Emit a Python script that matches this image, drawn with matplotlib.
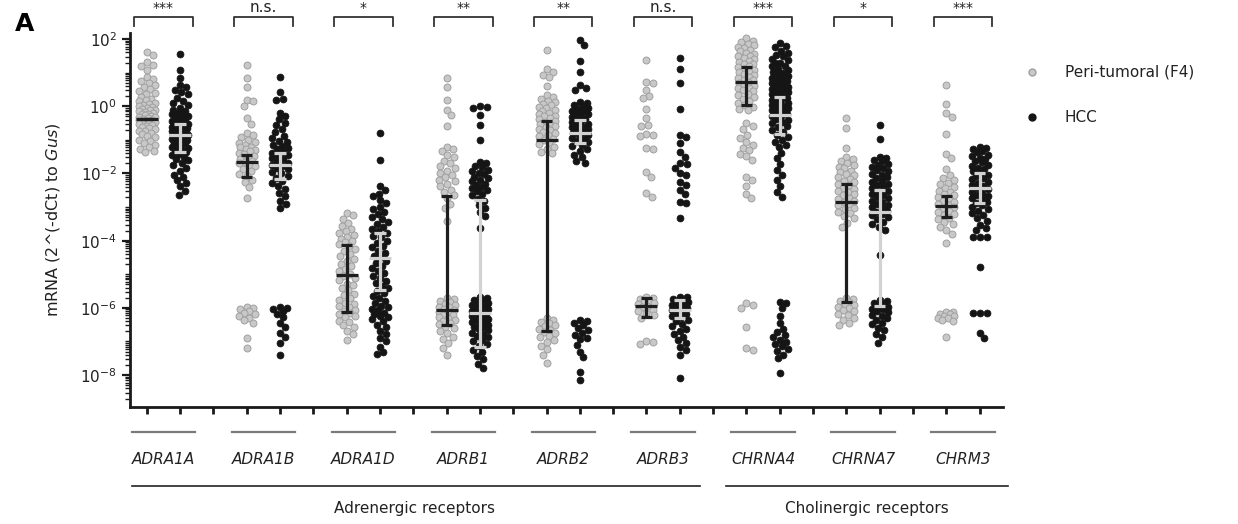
## mRNA expression of neurotransmitter receptors, peri-tumoral vs HCC
import numpy as np
import matplotlib
matplotlib.use("Agg")
from matplotlib import pyplot as plt
from matplotlib.lines import Line2D
import matplotlib.transforms as mtransforms
from matplotlib.ticker import FixedLocator, LogLocator, NullFormatter

plt.rcParams['font.family'] = 'DejaVu Sans'

# gene names and significance labels
genes = ["ADRA1A", "ADRA1B", "ADRA1D", "ADRB1", "ADRB2", "ADRB3", "CHRNA4", "CHRNA7", "CHRM3"]
sig = ["***", "n.s.", "*", "**", "**", "n.s.", "***", "*", "***"]

# read-off values, log10 of mRNA (2^(-dCt) to Gus)
adra1a_peri = [1.62, 1.54, 1.31, 1.23, 1.19, 1.09, 0.86, 0.81, 0.76, 0.69, 0.64, 0.56, 0.52, 0.45, 0.39, 0.36,
               0.28, 0.23, 0.18, 0.15, 0.09, 0.07, 0.04, 0.01, -0.02, -0.05, -0.07, -0.10, -0.12, -0.15, -0.16,
               -0.20, -0.22, -0.24, -0.26, -0.29, -0.31, -0.33, -0.36, -0.37, -0.40, -0.42, -0.43, -0.47, -0.49,
               -0.51, -0.54, -0.57, -0.59, -0.62, -0.66, -0.68, -0.73, -0.75, -0.81, -0.83, -0.88, -0.92, -0.99,
               -1.03, -1.10, -1.15, -1.22, -1.26, -1.33, -1.36]
adra1a_hcc = [1.57, 1.08, 0.83, 0.63, 0.58, 0.49, 0.42, 0.36, 0.26, 0.17, 0.10, 0.03, -0.04, -0.10, -0.13, -0.19,
              -0.23, -0.27, -0.30, -0.34, -0.37, -0.41, -0.45, -0.47, -0.49, -0.53, -0.55, -0.56, -0.60, -0.62,
              -0.64, -0.68, -0.70, -0.71, -0.74, -0.78, -0.79, -0.82, -0.85, -0.86, -0.89, -0.91, -0.95, -0.97,
              -0.99, -1.02, -1.06, -1.08, -1.10, -1.14, -1.18, -1.21, -1.24, -1.30, -1.33, -1.36, -1.43, -1.46,
              -1.50, -1.58, -1.61, -1.70, -1.76, -1.85, -1.92, -2.04, -2.10, -2.19, -2.28, -2.38, -2.52, -2.64]
adra1b_peri = [1.22, 0.85, 0.58, 0.20, 0.15, 0.02, -0.36, -0.52, -0.80, -0.87, -0.92, -0.99, -1.05, -1.08, -1.14,
               -1.20, -1.22, -1.28, -1.31, -1.34, -1.40, -1.43, -1.49, -1.54, -1.57, -1.62, -1.67, -1.69, -1.76,
               -1.79, -1.86, -1.92, -2.01, -2.07, -2.18, -2.26, -2.41, -2.74, -5.96, -6.01, -6.03, -6.09, -6.15,
               -6.18, -6.25, -6.29, -6.36, -6.45, -6.90, -7.19]
adra1b_hcc = [0.86, 0.41, 0.23, 0.19, -0.19, -0.30, -0.39, -0.50, -0.57, -0.69, -0.77, -0.88, -0.93, -1.02, -1.06,
              -1.14, -1.18, -1.25, -1.28, -1.35, -1.38, -1.45, -1.48, -1.55, -1.58, -1.65, -1.68, -1.75, -1.78,
              -1.85, -1.88, -1.96, -2.00, -2.08, -2.13, -2.22, -2.28, -2.38, -2.46, -2.58, -2.68, -2.82, -2.92,
              -3.02, -5.97, -6.00, -6.04, -6.08, -6.19, -6.28, -6.45, -6.57, -6.75, -6.88, -7.05, -7.40]
adra1d_peri = [-3.19, -3.25, -3.35, -3.47, -3.57, -3.65, -3.70, -3.78, -3.83, -3.90, -3.94, -4.01, -4.03, -4.10,
               -4.16, -4.25, -4.30, -4.40, -4.46, -4.55, -4.61, -4.70, -4.76, -4.85, -4.90, -5.00, -5.04, -5.12,
               -5.18, -5.28, -5.33, -5.42, -5.48, -5.58, -5.63, -5.72, -5.76, -5.85, -5.88, -5.95, -5.98, -6.05,
               -6.08, -6.15, -6.18, -6.25, -6.28, -6.38, -6.43, -6.52, -6.58, -6.70, -6.78, -6.96]
adra1d_hcc = [-0.81, -1.60, -2.38, -2.50, -2.60, -2.68, -2.80, -2.88, -3.00, -3.07, -3.15, -3.20, -3.30, -3.36,
              -3.45, -3.50, -3.60, -3.64, -3.72, -3.76, -3.85, -3.90, -4.00, -4.06, -4.15, -4.20, -4.30, -4.36,
              -4.45, -4.50, -4.60, -4.66, -4.75, -4.80, -4.90, -4.96, -5.05, -5.10, -5.20, -5.26, -5.35, -5.40,
              -5.50, -5.56, -5.65, -5.70, -5.80, -5.86, -5.93, -5.97, -6.04, -6.07, -6.14, -6.17, -6.24, -6.27,
              -6.34, -6.40, -6.50, -6.58, -6.70, -6.78, -6.90, -6.98, -7.15, -7.32, -7.36]
adrb1_peri = [0.83, 0.56, 0.20, -0.10, -0.26, -0.59, -1.20, -1.28, -1.33, -1.45, -1.52, -1.62, -1.68, -1.78, -1.83,
              -1.92, -1.98, -2.06, -2.10, -2.18, -2.23, -2.32, -2.38, -2.48, -2.54, -2.65, -2.73, -2.90, -3.03,
              -3.40, -5.72, -5.74, -5.80, -5.82, -5.88, -5.90, -5.96, -5.98, -6.04, -6.06, -6.12, -6.14, -6.20,
              -6.22, -6.28, -6.30, -6.36, -6.39, -6.46, -6.49, -6.57, -6.61, -6.70, -6.76, -6.86, -6.93, -7.06,
              -7.18, -7.39]
adrb1_hcc = [0.02, -0.01, -0.05, -0.26, -0.55, -1.00, -1.65, -1.70, -1.78, -1.82, -1.90, -1.93, -2.00, -2.03, -2.10,
             -2.13, -2.20, -2.23, -2.30, -2.33, -2.40, -2.43, -2.50, -2.53, -2.60, -2.65, -2.75, -2.83, -2.95,
             -3.03, -3.15, -3.28, -3.62, -5.67, -5.70, -5.76, -5.78, -5.84, -5.86, -5.92, -5.94, -6.00, -6.02,
             -6.08, -6.10, -6.16, -6.18, -6.24, -6.26, -6.32, -6.34, -6.40, -6.42, -6.48, -6.50, -6.56, -6.58,
             -6.64, -6.67, -6.74, -6.77, -6.84, -6.88, -6.96, -7.00, -7.09, -7.14, -7.24, -7.31, -7.43, -7.52,
             -7.66, -7.79]
adrb2_peri = [1.67, 1.10, 1.01, 0.94, 0.88, 0.60, 0.33, 0.27, 0.23, 0.16, 0.13, 0.07, 0.04, -0.02, -0.05, -0.11,
              -0.13, -0.20, -0.22, -0.28, -0.30, -0.36, -0.38, -0.44, -0.46, -0.52, -0.54, -0.60, -0.62, -0.68,
              -0.70, -0.76, -0.79, -0.86, -0.89, -0.96, -0.99, -1.07, -1.11, -1.20, -1.26, -1.36, -1.40, -6.31,
              -6.35, -6.42, -6.45, -6.52, -6.55, -6.62, -6.65, -6.72, -6.76, -6.84, -6.88, -6.97, -7.03, -7.14,
              -7.23, -7.39, -7.64]
adrb2_hcc = [1.97, 1.81, 1.36, 1.01, 0.63, 0.55, 0.48, 0.13, 0.10, 0.03, 0.01, -0.05, -0.07, -0.13, -0.15, -0.21,
             -0.23, -0.29, -0.31, -0.37, -0.39, -0.45, -0.47, -0.53, -0.55, -0.61, -0.63, -0.69, -0.71, -0.77,
             -0.79, -0.85, -0.87, -0.93, -0.96, -1.03, -1.06, -1.14, -1.18, -1.27, -1.33, -1.44, -1.52, -1.63,
             -1.70, -6.36, -6.39, -6.46, -6.51, -6.59, -6.65, -6.75, -6.81, -6.89, -6.92, -7.10, -7.30, -7.47,
             -7.90, -8.15]
adrb3_peri = [1.37, 0.73, 0.70, 0.48, 0.30, 0.26, -0.07, -0.36, -0.55, -0.58, -0.84, -0.86, -0.88, -1.23, -1.27,
              -1.95, -2.10, -2.59, -2.69, -5.67, -5.71, -5.73, -5.79, -5.81, -5.87, -5.89, -5.95, -5.98, -6.05,
              -6.08, -6.16, -6.21, -6.30, -6.98, -7.03, -7.07]
adrb3_hcc = [1.45, 1.10, 0.70, -0.09, -0.86, -0.92, -1.10, -1.36, -1.50, -1.70, -1.72, -1.85, -2.00, -2.05, -2.25,
             -2.35, -2.50, -2.62, -2.84, -2.88, -3.34, -5.67, -5.69, -5.74, -5.76, -5.82, -5.84, -5.90, -5.92,
             -5.98, -6.00, -6.06, -6.08, -6.14, -6.17, -6.24, -6.27, -6.35, -6.39, -6.48, -6.53, -6.63, -6.69,
             -6.79, -6.86, -6.97, -7.04, -7.16, -7.25, -7.39, -8.10]
chrna4_peri = [2.02, 1.95, 1.91, 1.84, 1.81, 1.76, 1.73, 1.67, 1.64, 1.59, 1.57, 1.51, 1.49, 1.43, 1.41, 1.35,
               1.33, 1.27, 1.25, 1.19, 1.17, 1.11, 1.09, 1.03, 1.01, 0.95, 0.93, 0.87, 0.85, 0.79, 0.77, 0.71,
               0.69, 0.63, 0.61, 0.55, 0.53, 0.47, 0.44, 0.37, 0.34, 0.27, 0.23, 0.15, 0.11, 0.03, -0.02, -0.08,
               -0.11, -0.51, -0.59, -0.69, -0.86, -0.94, -1.06, -1.14, -1.23, -1.29, -1.41, -1.49, -1.60, -2.10,
               -2.19, -2.36, -2.60, -2.74, -5.87, -5.90, -6.01, -6.56, -7.20, -7.25]
chrna4_hcc = [1.89, 1.79, 1.75, 1.65, 1.60, 1.52, 1.49, 1.41, 1.38, 1.30, 1.28, 1.21, 1.19, 1.12, 1.09, 1.03, 0.99,
              0.94, 0.91, 0.85, 0.83, 0.76, 0.74, 0.68, 0.66, 0.60, 0.58, 0.52, 0.50, 0.44, 0.42, 0.36, 0.34,
              0.28, 0.26, 0.20, 0.18, 0.12, 0.10, 0.04, 0.02, -0.04, -0.06, -0.12, -0.14, -0.20, -0.22, -0.28,
              -0.30, -0.37, -0.40, -0.47, -0.51, -0.59, -0.63, -0.71, -0.76, -0.85, -0.90, -1.00, -1.06, -1.16,
              -1.21, -1.40, -1.55, -1.72, -1.90, -2.05, -2.20, -2.38, -2.55, -2.69, -5.82, -5.86, -6.01, -6.25,
              -6.45, -6.62, -6.71, -6.81, -6.87, -6.96, -7.01, -7.09, -7.14, -7.23, -7.29, -7.39, -7.50, -7.95]
chrna7_peri = [-0.36, -0.64, -1.24, -1.50, -1.57, -1.62, -1.70, -1.74, -1.81, -1.85, -1.92, -1.95, -2.02, -2.05,
               -2.12, -2.15, -2.22, -2.25, -2.32, -2.35, -2.42, -2.45, -2.52, -2.55, -2.62, -2.65, -2.72, -2.75,
               -2.82, -2.85, -2.92, -2.95, -3.03, -3.07, -3.15, -3.19, -3.28, -3.34, -3.46, -3.59, -5.72, -5.75,
               -5.81, -5.83, -5.89, -5.91, -5.97, -5.99, -6.06, -6.09, -6.17, -6.21, -6.30, -6.36, -6.46, -6.51]
chrna7_hcc = [-0.56, -0.96, -1.50, -1.54, -1.61, -1.64, -1.71, -1.74, -1.81, -1.84, -1.91, -1.94, -2.01, -2.04,
              -2.11, -2.14, -2.21, -2.24, -2.31, -2.34, -2.41, -2.44, -2.51, -2.54, -2.61, -2.64, -2.71, -2.74,
              -2.81, -2.84, -2.91, -2.94, -3.01, -3.04, -3.11, -3.14, -3.21, -3.24, -3.31, -3.35, -3.43, -3.49,
              -3.59, -3.69, -4.43, -5.77, -5.80, -5.86, -5.88, -5.94, -5.96, -6.02, -6.04, -6.10, -6.13, -6.20,
              -6.23, -6.31, -6.35, -6.44, -6.49, -6.59, -6.66, -6.78, -6.88, -7.05]
chrm3_peri = [0.63, 0.06, -0.20, -0.32, -0.83, -1.42, -1.55, -1.88, -2.05, -2.13, -2.18, -2.27, -2.31, -2.39, -2.43,
              -2.51, -2.54, -2.61, -2.64, -2.71, -2.74, -2.81, -2.84, -2.91, -2.94, -3.01, -3.04, -3.11, -3.14,
              -3.21, -3.24, -3.32, -3.36, -3.44, -3.49, -3.59, -3.67, -3.79, -4.06, -6.11, -6.13, -6.18, -6.19,
              -6.24, -6.25, -6.30, -6.31, -6.37, -6.40, -6.88]
chrm3_hcc = [-1.20, -1.25, -1.27, -1.34, -1.37, -1.44, -1.47, -1.54, -1.57, -1.64, -1.67, -1.74, -1.77, -1.84,
             -1.87, -1.94, -1.97, -2.04, -2.07, -2.14, -2.17, -2.24, -2.27, -2.34, -2.37, -2.44, -2.47, -2.54,
             -2.57, -2.64, -2.67, -2.74, -2.77, -2.84, -2.87, -2.95, -2.99, -3.07, -3.11, -3.19, -3.24, -3.34,
             -3.41, -3.53, -3.61, -3.69, -3.88, -3.88, -3.88, -4.78, -6.15, -6.15, -6.15, -6.76, -6.91]

peri = [adra1a_peri, adra1b_peri, adra1d_peri, adrb1_peri, adrb2_peri, adrb3_peri, chrna4_peri, chrna7_peri, chrm3_peri]
hcc = [adra1a_hcc, adra1b_hcc, adra1d_hcc, adrb1_hcc, adrb2_hcc, adrb3_hcc, chrna4_hcc, chrna7_hcc, chrm3_hcc]

# median and interquartile range (log10) as drawn
peri_med = [-0.38, -1.67, -5.02, -6.07, -1.00, -5.95, 0.73, -2.84, -2.97]
peri_lo = [-0.38, -2.10, -6.11, -6.51, -6.69, -6.26, 0.04, -5.82, -3.29]
peri_hi = [-0.38, -1.45, -4.13, -2.67, -0.43, -5.72, 1.18, -2.32, -2.67]
hcc_med = [-0.86, -1.75, -4.53, -6.16, -0.81, -6.07, -0.26, -3.14, -2.44]
hcc_lo = [-1.35, -2.15, -5.47, -7.16, -1.10, -6.31, -0.84, -5.95, -2.89]
hcc_hi = [-0.53, -1.40, -3.78, -2.79, -0.41, -5.77, 0.28, -2.49, -1.99]

fig = plt.figure(figsize=(12.38, 5.24), dpi=100)
ax = fig.add_axes([0.105, 0.2233, 0.7052, 0.7137])
ax.set_yscale('log')
ax.set_xlim(0.5, 26.7)
ax.set_ylim(10**-8.95, 10**2.18)

# simple beeswarm in pixel space, column width capped
def swarm_x(xc, logvals, diam=6.6, maxoff=8.0):
    v = 10.0**np.array(logvals)
    pts = ax.transData.transform(np.column_stack([np.full(len(v), xc), v]))
    ys = pts[:, 1]
    ppu = ax.transData.transform([(1, 1)])[0][0] - ax.transData.transform([(0, 1)])[0][0]
    cands = [0.0]
    for k in np.arange(0.5, maxoff + 0.01, 0.5):
        cands += [k, -k]
    px, py = [], []
    offs = np.zeros(len(ys))
    for i in np.argsort(-ys):
        y = ys[i]
        best, bestd = 0.0, -1.0
        for c in cands:
            if px:
                dmin = np.sqrt((np.array(px) - c)**2 + (np.array(py) - y)**2).min()
            else:
                dmin = 1e9
            if dmin >= diam:
                best = c
                break
            if dmin > bestd:
                best, bestd = c, dmin
        offs[i] = best
        px.append(best)
        py.append(y)
    return xc + offs / ppu

def draw_bar(x, med, lo, hi, color):
    kw = dict(color=color, lw=2.3, zorder=5, solid_capstyle='butt')
    ax.plot([x, x], [10**lo, 10**hi], **kw)
    for e in (lo, hi):
        ax.plot([x - 0.17, x + 0.17], [10**e, 10**e], **kw)
    ax.plot([x - 0.33, x + 0.33], [10**med, 10**med], **kw)

for i in range(len(genes)):
    xg = 3 * i + 1
    xh = 3 * i + 2
    ax.scatter(swarm_x(xg, peri[i]), 10.0**np.array(peri[i]), s=25, c='#c8c8c8',
               edgecolors='#a0a0a0', linewidths=0.7, zorder=3)
    ax.scatter(swarm_x(xh, hcc[i]), 10.0**np.array(hcc[i]), s=25, c='#151515',
               edgecolors='#151515', linewidths=0.5, zorder=3)
    draw_bar(xg, peri_med[i], peri_lo[i], peri_hi[i], '#1e1e1e')
    draw_bar(xh, hcc_med[i], hcc_lo[i], hcc_hi[i], '#d2d2d2')

# axes styling
for s in ['top', 'right']:
    ax.spines[s].set_visible(False)
for s in ['left', 'bottom']:
    ax.spines[s].set_linewidth(2)
    ax.spines[s].set_color('#1a1a1a')
ax.set_xticks(range(1, 27))
ax.set_xticklabels([])
ax.tick_params(axis='x', length=5, width=2, color='#1a1a1a')
ax.yaxis.set_major_locator(FixedLocator([1e-8, 1e-6, 1e-4, 1e-2, 1e0, 1e2]))
ax.set_yticklabels([r'$10^{-8}$', r'$10^{-6}$', r'$10^{-4}$', r'$10^{-2}$', r'$10^{0}$', r'$10^{2}$'],
                   fontsize=11, color='#222222')
ax.yaxis.set_minor_locator(LogLocator(base=10, subs=np.arange(1, 10), numticks=60))
ax.yaxis.set_minor_formatter(NullFormatter())
ax.tick_params(axis='y', which='major', length=6, width=1.6, color='#1a1a1a')
ax.tick_params(axis='y', which='minor', length=3.5, width=1.0, color='#1a1a1a')
ax.set_ylabel(r'mRNA (2^(-dCt) to $\mathit{Gus}$)', fontsize=11.5, color='#222222')
ax.yaxis.set_label_coords(-0.078, 0.5)

trans = mtransforms.blended_transform_factory(ax.transData, fig.transFigure)

# significance brackets
for i, s in enumerate(sig):
    x0, x1 = 3 * i + 0.62, 3 * i + 2.38
    ax.plot([x0, x0, x1, x1], [0.950, 0.967, 0.967, 0.950], transform=trans, clip_on=False,
            color='#333333', lw=1.3)
    ax.text(3 * i + 1.5, 0.971, s, transform=trans, ha='center', va='bottom',
            fontsize=10 if s != 'n.s.' else 11, color='#222222')

# gene labels under the axis
for i, g in enumerate(genes):
    ax.plot([3 * i + 0.55, 3 * i + 2.45], [0.1756, 0.1756], transform=trans, clip_on=False,
            color='#7a7a7a', lw=1.6)
    ax.text(3 * i + 1.5, 0.124, g, transform=trans, ha='center', va='center',
            fontsize=11, style='italic', color='#222222')

# receptor groups
ax.plot([0.55, 17.6], [0.0725, 0.0725], transform=trans, clip_on=False, color='#222222', lw=1.2)
ax.plot([18.4, 26.85], [0.0725, 0.0725], transform=trans, clip_on=False, color='#222222', lw=1.2)
ax.text(9.05, 0.030, "Adrenergic receptors", transform=trans, ha='center', va='center',
        fontsize=11, color='#222222')
ax.text(22.6, 0.030, "Cholinergic receptors", transform=trans, ha='center', va='center',
        fontsize=11, color='#222222')

# legend
fig.add_artist(Line2D([1032 / 1238], [1 - 72 / 524], marker='o', ms=5, ls='none', mfc='#c8c8c8',
                      mec='#a0a0a0', transform=fig.transFigure))
fig.add_artist(Line2D([1032 / 1238], [1 - 117 / 524], marker='o', ms=5, ls='none', mfc='#151515',
                      mec='#151515', transform=fig.transFigure))
fig.text(1065 / 1238, 1 - 72 / 524, "Peri-tumoral (F4)", ha='left', va='center', fontsize=11, color='#222222')
fig.text(1065 / 1238, 1 - 117 / 524, "HCC", ha='left', va='center', fontsize=11, color='#222222')

fig.text(0.012, 0.955, "A", fontsize=18, fontweight='bold', ha='left', va='center')

fig.savefig("out.png", dpi=100)
